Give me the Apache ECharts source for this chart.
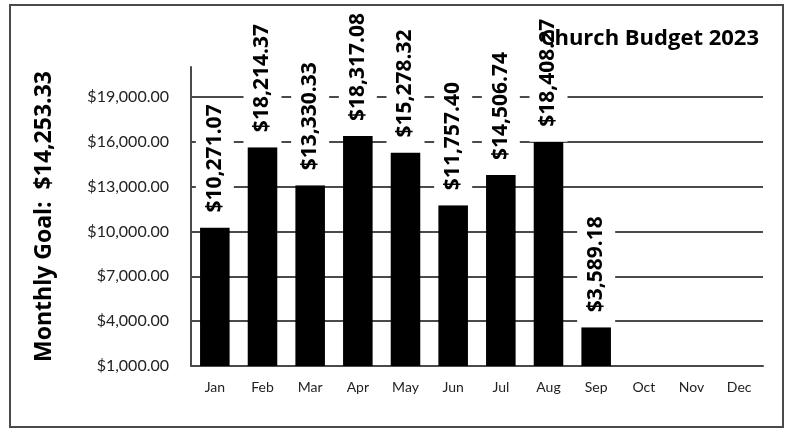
<!DOCTYPE html>
<html>
<head>
<meta charset="utf-8">
<script src="https://cdn.jsdelivr.net/npm/echarts@6/dist/echarts.min.js"></script>
<style>
	html, body { margin: 0; padding: 0; background: #fff; }
	#chart { width: 788px; height: 430px; }
</style>
</head>
<body>
<div id="chart"></div>
<script>
	var months = [ 'Jan', 'Feb', 'Mar', 'Apr', 'May', 'Jun', 'Jul', 'Aug', 'Sep', 'Oct', 'Nov', 'Dec' ];
	// bar heights as drawn
	var totals = [ 10271, 15640, 13090, 16380, 15280, 11760, 13780, 16000, 3590, 0, 0, 0 ];
	// the labels printed above the bars
	var labels = [ '$10,271.07', '$18,214.37', '$13,330.33', '$18,317.08', '$15,278.32', '$11,757.40',
		'$14,506.74', '$18,408.27', '$3,589.18', '', '', '' ];
	var goal = '$14,253.33';

	var chartDom = document.getElementById('chart');
	var myChart = echarts.init(chartDom);

	var data = [];
	for (var i = 0; i < totals.length; i++) {
		data.push({
			value: totals[i],
			label: { show: labels[i] !== '', formatter: labels[i] }
		});
	}

	function money(v) {
		return '$' + v.toLocaleString('en-US', { minimumFractionDigits: 2, maximumFractionDigits: 2 });
	}

	var option = {
		animation: false,
		backgroundColor: '#fff',
		title: {
			text: 'Church Budget 2023',
			right: 24,
			top: 23,
			zlevel: 1,
			textStyle: { fontFamily: 'Open Sans', fontWeight: 'bold', fontSize: 22, color: '#000' }
		},
		graphic: {
			elements: [
				{
					type: 'rect',
					shape: { x: 10, y: 5, width: 773, height: 422 },
					style: { fill: 'none', stroke: '#4a4a4a', lineWidth: 2 },
					z: 100
				}
			]
		},
		grid: { left: 191, right: 25, top: 67, bottom: 64 },
		xAxis: {
			type: 'category',
			data: months,
			axisLine: { lineStyle: { color: '#4a4a4a', width: 2 } },
			axisTick: { show: false },
			axisLabel: { color: '#222', fontFamily: 'Lato', fontSize: 14, margin: 14 }
		},
		yAxis: {
			type: 'value',
			min: 1000,
			max: 21000,
			interval: 3000,
			name: 'Monthly Goal:  ' + goal,
			nameLocation: 'middle',
			nameGap: 135,
			nameTextStyle: { fontFamily: 'Open Sans', fontWeight: 'bold', fontSize: 23, color: '#000' },
			axisLine: { show: true, lineStyle: { color: '#4a4a4a', width: 2 } },
			axisTick: { show: false },
			axisLabel: { color: '#222', fontFamily: 'Lato', fontSize: 16, margin: 22, showMaxLabel: false,
				formatter: function (v) { return v > 19000 ? '' : money(v); } },
			splitLine: { showMaxLine: false, lineStyle: { color: '#4a4a4a', width: 2 } }
		},
		series: [
			{
				type: 'bar',
				data: data,
				barCategoryGap: '38%',
				itemStyle: { color: '#000' },
				label: {
					position: 'top',
					rotate: 90,
					align: 'left',
					verticalAlign: 'middle',
					distance: 0,
					color: '#000',
					fontFamily: 'Open Sans',
					fontWeight: 'bold',
					fontSize: 21,
					lineHeight: 24,
					backgroundColor: '#fff',
					padding: [ 7, 6, 7, 15 ]
				}
			}
		]
	};
	option && myChart.setOption(option);
</script>
</body>
</html>
